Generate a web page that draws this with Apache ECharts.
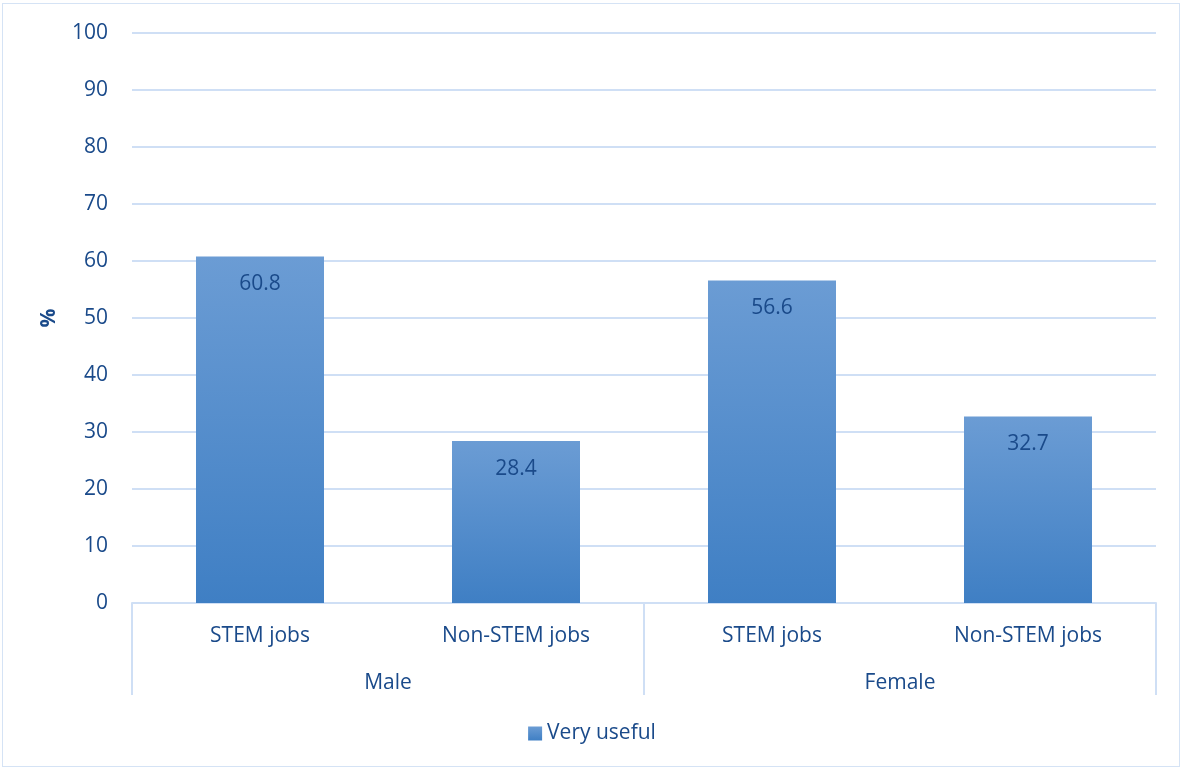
<!DOCTYPE html>
<html>
<head>
<meta charset="utf-8">
<script src="https://cdn.jsdelivr.net/npm/echarts@6/dist/echarts.min.js"></script>
<style>
html,body{margin:0;padding:0;background:#fff;}
#frame{position:absolute;left:2px;top:3px;width:1178px;height:764px;border:1px solid #d5e3f5;box-sizing:border-box;}
#chart{position:absolute;left:0;top:0;width:1184px;height:771px;}
</style>
</head>
<body>
<div id="frame"></div>
<div id="chart"></div>
<script>
const subCategories = ['STEM jobs', 'Non-STEM jobs', 'STEM jobs', 'Non-STEM jobs'];
const groups = ['Male', 'Female'];
const veryUseful = [60.8, 28.4, 56.6, 32.7];
const seriesName = 'Very useful';
const yTicks = {min: 0, max: 100, interval: 10};

const txt = '#1a4a8a';
const lineCol = '#cfdff5';
const font = 'Open Sans, Noto Sans, sans-serif';
const chart = echarts.init(document.getElementById('chart'), null, {renderer: 'canvas'});
const grad = new echarts.graphic.LinearGradient(0, 0, 0, 1, [
  {offset: 0, color: '#6b9cd4'},
  {offset: 1, color: '#3f7fc4'}
]);
chart.setOption({
  animation: false,
  textStyle: {fontFamily: font},
  grid: {left: 132, right: 28, top: 33, bottom: 168, containLabel: false},
  legend: {
    bottom: 22, left: 'center',
    itemWidth: 14, itemHeight: 14, itemGap: 6,
    icon: 'rect',
    textStyle: {color: txt, fontSize: 21, fontFamily: font},
    data: [{name: seriesName, itemStyle: {color: grad}}]
  },
  xAxis: [{
    type: 'category',
    data: subCategories,
    axisLine: {lineStyle: {color: lineCol, width: 2}},
    axisTick: {show: false},
    axisLabel: {color: txt, fontSize: 21, margin: 23}
  }, {
    type: 'category',
    data: groups,
    position: 'bottom',
    axisLine: {show: false},
    axisTick: {show: true, length: 92, lineStyle: {color: lineCol, width: 2}, interval: 0},
    axisLabel: {color: txt, fontSize: 21, margin: 70}
  }],
  yAxis: {
    type: 'value',
    min: yTicks.min, max: yTicks.max, interval: yTicks.interval,
    name: '%', nameLocation: 'middle', nameGap: 72, nameRotate: 90,
    nameTextStyle: {color: txt, fontSize: 21, fontWeight: 'bold'},
    axisLine: {show: false},
    axisTick: {show: false},
    axisLabel: {color: txt, fontSize: 21, margin: 24},
    splitLine: {lineStyle: {color: lineCol, width: 2}}
  },
  series: [{
    name: seriesName,
    type: 'bar',
    xAxisIndex: 0,
    data: veryUseful,
    barWidth: '50%',
    itemStyle: {color: grad},
    label: {show: true, position: 'insideTop', distance: 17, color: txt, fontSize: 21,
      formatter: p => p.value.toFixed(1)}
  }]
});
</script>
</body>
</html>
